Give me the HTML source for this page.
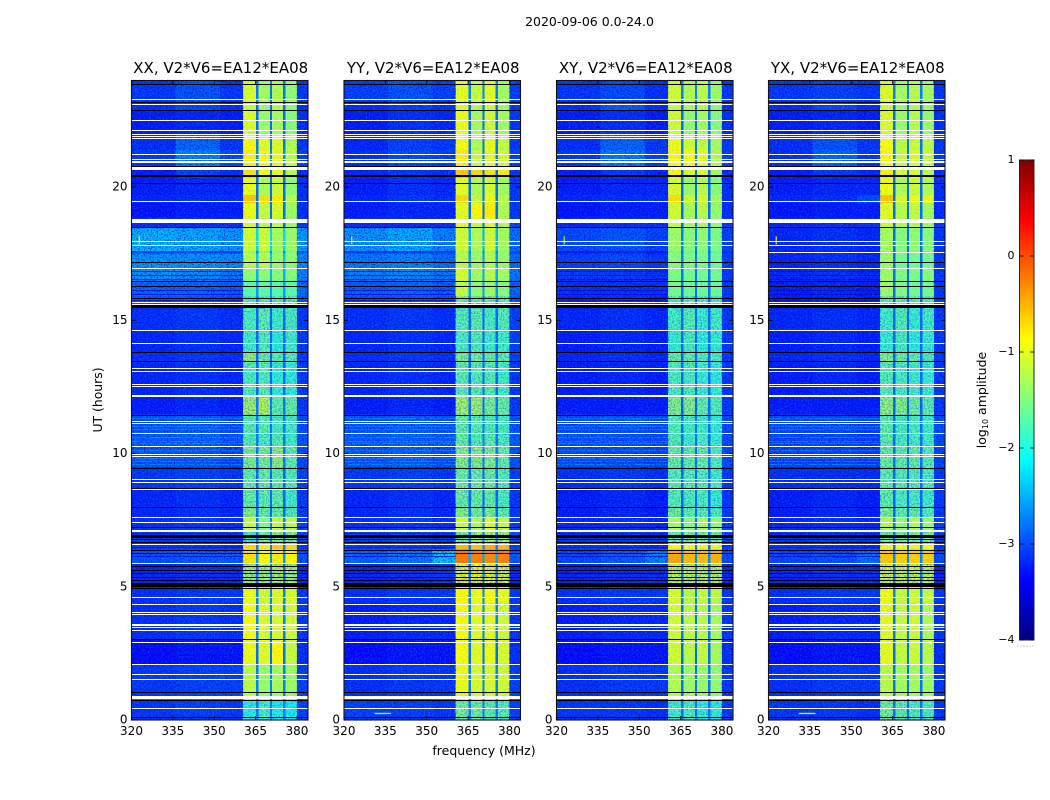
<!DOCTYPE html>
<html lang="en">
<head>
<meta charset="utf-8">
<title>2020-09-06 dynamic spectra</title>
<style>
html,body{margin:0;padding:0;background:#fff;}
svg{display:block;}
text{font-family:"DejaVu Sans","Liberation Sans",sans-serif;fill:#000;}
</style>
</head>
<body>
<svg id="chart" xmlns="http://www.w3.org/2000/svg" width="1050" height="800" viewBox="0 0 1050 800">
<defs>
<filter id="speckle" x="0" y="0" width="100%" height="100%" color-interpolation-filters="sRGB">
<feTurbulence type="fractalNoise" baseFrequency="0.62" numOctaves="1" seed="4"/>
<feColorMatrix type="matrix" values="0 0 0 0 0.18  0 0 0 0 0.5  0 0 0 0 1  5 0 0 0 -2.35"/>
</filter>
<filter id="speckle-dark" x="0" y="0" width="100%" height="100%" color-interpolation-filters="sRGB">
<feTurbulence type="fractalNoise" baseFrequency="0.7" numOctaves="1" seed="11"/>
<feColorMatrix type="matrix" values="0 0 0 0 0  0 0 0 0 0.05  0 0 0 0 0.72  5 0 0 0 -2.4"/>
</filter>
<linearGradient id="jet-gradient" x1="0" y1="1" x2="0" y2="0"></linearGradient>
</defs>
<text x="589.5" y="26" text-anchor="middle" font-size="12.5">2020-09-06 0.0-24.0</text>
<text x="484" y="755" text-anchor="middle" font-size="12.5">frequency (MHz)</text>
<text transform="translate(102,400) rotate(-90)" text-anchor="middle" font-size="12.4">UT (hours)</text>
<text transform="translate(986,400) rotate(-90)" text-anchor="middle" font-size="12.5">log<tspan font-size="8" dy="2">10</tspan><tspan dy="-2"> amplitude</tspan></text>
<g id="panels"></g>
<g id="colorbar"></g>
</svg>
<script>
// ---- axis categories and ticks ----
var panelTitles = ["XX, V2*V6=EA12*EA08","YY, V2*V6=EA12*EA08","XY, V2*V6=EA12*EA08","YX, V2*V6=EA12*EA08"];
var freqTicks = [320,335,350,365,380];
var timeTicks = [0,5,10,15,20];
var colorbarTicks = [1,0,-1,-2,-3,-4];
var freqRange = [320,384];
var timeRange = [0,24];
var levelRange = [-4,1];

// ---- heatmap column edges (MHz); columns: bg1 bg2 bg3 b1 gap b2 gap b3 gap b4 outer ----
var freqEdges = [320,336,352,360.5,365.2,366,370.2,370.9,375,375.8,380,384];

// ---- heatmap row edges (hours, top to bottom) ----
var timeEdges = [24,23.2,22.9,22,21.4,20.8,20.35,19.7,19.4,18.85,18.5,17.6,17.5,17,16.5,15.9,15.5,14.6,13.8,13.4,12.2,11.46,10.8,10.3,9.5,8.7,8,7.6,7.1,6.6,6.4,5.85,5,4.4,3,2.1,0.9,0.75,0];

// ---- log10 amplitude per row: [bg1,bg2,bg3,b1,b2,b3,b4,gap,outer] ----
var xxLevels = [
[-3.1,-2.95,-3.1,-1.05,-1.3,-1.25,-1.4,-2.8,-3.1],
[-3.15,-3.0,-3.15,-1.1,-1.35,-1.25,-1.45,-2.85,-3.15],
[-3.25,-3.2,-3.25,-1.05,-1.35,-1.3,-1.45,-2.85,-3.15],
[-3.15,-2.85,-3.1,-0.85,-1.0,-1.05,-1.25,-2.8,-3.1],
[-3.1,-2.7,-3.0,-0.8,-0.95,-1.0,-1.2,-2.7,-3.05],
[-3.25,-3.05,-3.15,-0.75,-0.9,-0.95,-1.2,-2.85,-3.15],
[-3.25,-3.2,-3.2,-0.95,-1.25,-1.1,-1.4,-2.85,-3.15],
[-3.2,-3.15,-3.15,-0.6,-0.75,-0.8,-1.2,-2.85,-3.15],
[-3.3,-3.25,-3.25,-0.95,-1.15,-1.05,-1.35,-2.85,-3.15],
[-3.15,-3.15,-3.15,-1.05,-1.15,-1.15,-1.35,-2.85,-3.1],
[-2.45,-2.5,-2.6,-1.1,-1.1,-1.3,-1.35,-2.3,-2.55],
[-3.0,-3.0,-3.05,-1.4,-1.4,-1.5,-1.5,-2.7,-2.95],
[-2.6,-2.6,-2.65,-1.2,-1.2,-1.35,-1.4,-2.4,-2.65],
[-2.6,-2.65,-2.75,-1.4,-1.4,-1.45,-1.45,-2.5,-2.7],
[-2.85,-2.85,-2.9,-1.7,-1.65,-1.7,-1.7,-2.6,-2.8],
[-2.95,-2.95,-3.0,-1.75,-1.7,-1.65,-1.75,-2.7,-2.95],
[-3.15,-3.1,-3.15,-1.75,-1.65,-1.8,-1.75,-2.85,-3.1],
[-3.2,-3.15,-3.2,-1.8,-1.7,-1.9,-1.8,-2.85,-3.1],
[-3.15,-3.1,-3.15,-1.4,-1.6,-1.7,-1.7,-2.85,-3.1],
[-3.2,-3.15,-3.2,-1.75,-1.7,-1.9,-1.9,-2.85,-3.1],
[-3.25,-3.2,-3.25,-1.3,-1.2,-1.65,-1.6,-2.75,-3.1],
[-2.95,-2.9,-3.0,-1.65,-1.65,-1.75,-1.75,-2.75,-3.0],
[-2.9,-2.85,-2.95,-1.7,-1.75,-1.7,-1.8,-2.75,-2.95],
[-2.95,-2.95,-3.05,-1.5,-1.5,-1.4,-1.65,-2.75,-3.0],
[-3.1,-3.05,-3.1,-1.65,-1.6,-1.65,-1.7,-2.85,-3.05],
[-3.2,-3.15,-3.2,-1.6,-1.65,-1.65,-1.8,-2.85,-3.1],
[-3.2,-3.15,-3.2,-1.45,-1.6,-1.6,-1.7,-2.85,-3.1],
[-3.15,-3.1,-3.15,-1.15,-1.5,-1.15,-1.2,-2.75,-3.05],
[-3.1,-3.05,-3.1,-1.85,-1.55,-1.4,-1.5,-2.75,-3.05],
[-3.1,-3.1,-3.15,-0.7,-0.8,-0.65,-0.7,-2.75,-3.1],
[-2.95,-2.9,-2.9,-0.75,-0.85,-0.8,-0.85,-2.65,-2.95],
[-3.2,-3.15,-3.15,-1.35,-1.3,-1.25,-1.3,-2.8,-3.2],
[-3.15,-3.1,-3.1,-0.95,-1.1,-1.05,-1.05,-2.75,-3.1],
[-3.15,-3.1,-3.15,-0.9,-1.05,-1.05,-1.1,-2.75,-3.1],
[-3.35,-3.3,-3.3,-0.95,-1.0,-0.85,-1.15,-2.85,-3.15],
[-3.1,-3.05,-3.05,-1.2,-1.35,-1.3,-1.35,-2.75,-3.05],
[-2.75,-2.75,-2.65,-1.35,-1.35,-1.35,-1.35,-2.65,-2.85],
[-3.1,-3.05,-3.1,-1.95,-1.8,-2.0,-2.05,-2.75,-3.05]
];
var yyLevels = [
[-3.05,-2.95,-3.05,-1.0,-1.15,-1.0,-1.3,-2.75,-3.05],
[-3.15,-3.05,-3.15,-1.0,-1.25,-1.05,-1.35,-2.85,-3.1],
[-3.25,-3.15,-3.2,-0.95,-1.3,-1.1,-1.3,-2.85,-3.1],
[-3.2,-3.05,-3.1,-0.9,-1.25,-0.95,-1.15,-2.8,-3.1],
[-3.15,-3.0,-3.05,-0.8,-1.15,-1.0,-1.1,-2.8,-3.05],
[-3.2,-3.1,-3.15,-0.6,-0.7,-0.75,-0.8,-2.85,-3.1],
[-3.25,-3.15,-3.2,-1.0,-1.25,-1.05,-1.3,-2.85,-3.1],
[-3.2,-3.1,-3.15,-0.7,-1.15,-0.95,-1.2,-2.85,-3.1],
[-3.25,-3.2,-3.2,-1.0,-0.85,-0.8,-1.25,-2.85,-3.1],
[-3.15,-3.15,-3.15,-1.0,-1.1,-1.0,-1.2,-2.85,-3.05],
[-2.6,-2.5,-2.7,-1.1,-1.25,-1.1,-1.3,-2.5,-2.8],
[-3.05,-3.05,-3.1,-1.3,-1.4,-1.3,-1.45,-2.75,-3.0],
[-2.75,-2.7,-2.8,-1.2,-1.35,-1.25,-1.35,-2.6,-2.8],
[-2.7,-2.65,-2.75,-1.05,-1.3,-1.2,-1.3,-2.55,-2.75],
[-2.9,-2.85,-2.9,-1.15,-1.4,-1.35,-1.45,-2.6,-2.85],
[-3.0,-2.95,-3.0,-1.5,-1.65,-1.6,-1.7,-2.75,-2.95],
[-3.15,-3.1,-3.15,-1.7,-1.65,-1.75,-1.7,-2.85,-3.05],
[-3.2,-3.15,-3.2,-1.75,-1.7,-1.8,-1.8,-2.85,-3.05],
[-3.15,-3.1,-3.15,-1.5,-1.55,-1.6,-1.65,-2.85,-3.05],
[-3.2,-3.15,-3.2,-1.65,-1.7,-1.7,-1.8,-2.85,-3.1],
[-3.25,-3.2,-3.25,-1.3,-1.3,-1.5,-1.6,-2.8,-3.1],
[-2.95,-2.9,-2.95,-1.6,-1.65,-1.7,-1.75,-2.75,-2.95],
[-2.9,-2.85,-2.9,-1.6,-1.7,-1.65,-1.75,-2.75,-2.9],
[-2.95,-2.9,-3.0,-1.45,-1.45,-1.45,-1.6,-2.75,-2.95],
[-3.1,-3.05,-3.1,-1.6,-1.6,-1.6,-1.7,-2.85,-3.05],
[-3.2,-3.15,-3.2,-1.6,-1.6,-1.6,-1.75,-2.85,-3.1],
[-3.2,-3.15,-3.2,-1.45,-1.55,-1.5,-1.65,-2.85,-3.1],
[-3.15,-3.1,-3.15,-1.1,-1.25,-1.0,-1.15,-2.75,-3.05],
[-3.05,-3.0,-3.05,-1.55,-1.3,-1.3,-1.35,-2.75,-3.0],
[-3.05,-3.05,-3.1,-0.55,-0.6,-0.5,-0.55,-2.75,-3.05],
[-2.85,-2.75,-2.35,-0.2,-0.25,-0.3,-0.25,-2.55,-2.9],
[-3.2,-3.15,-3.1,-0.95,-0.9,-0.95,-1.0,-2.8,-3.2],
[-3.15,-3.1,-3.1,-0.85,-0.95,-0.9,-1.0,-2.75,-3.1],
[-3.25,-3.2,-3.2,-0.9,-1.0,-1.0,-1.1,-2.75,-3.1],
[-3.35,-3.3,-3.3,-0.9,-1.0,-0.95,-1.05,-2.85,-3.15],
[-3.15,-3.1,-3.1,-0.95,-1.05,-1.05,-1.1,-2.75,-3.05],
[-2.85,-2.85,-2.75,-1.15,-1.15,-1.2,-1.15,-2.65,-2.9],
[-3.05,-3.05,-3.1,-1.55,-1.55,-1.65,-1.7,-2.75,-3.05]
];
var xyLevels = [
[-3.1,-3.0,-3.15,-1.1,-1.25,-1.2,-1.35,-2.75,-3.1],
[-3.15,-2.9,-3.15,-1.15,-1.3,-1.2,-1.4,-2.85,-3.15],
[-3.25,-3.15,-3.25,-1.1,-1.4,-1.3,-1.45,-2.85,-3.15],
[-3.15,-2.85,-3.1,-0.95,-1.1,-1.15,-1.3,-2.75,-3.1],
[-3.1,-2.75,-3.05,-0.85,-0.9,-1.0,-1.25,-2.75,-3.05],
[-3.25,-3.1,-3.2,-0.85,-1.05,-1.0,-1.3,-2.85,-3.15],
[-3.25,-3.2,-3.2,-1.05,-1.35,-1.2,-1.45,-2.85,-3.15],
[-3.2,-3.15,-3.15,-0.75,-1.1,-1.05,-1.3,-2.85,-3.15],
[-3.3,-3.25,-3.25,-1.1,-1.3,-1.2,-1.4,-2.85,-3.15],
[-3.2,-3.15,-3.15,-1.15,-1.3,-1.25,-1.4,-2.85,-3.1],
[-3.0,-2.95,-3.05,-1.35,-1.45,-1.4,-1.5,-2.75,-3.05],
[-3.3,-3.25,-3.3,-1.5,-1.6,-1.55,-1.65,-2.85,-3.15],
[-3.05,-3.0,-3.1,-1.45,-1.5,-1.5,-1.55,-2.75,-3.05],
[-3.1,-3.1,-3.15,-1.5,-1.55,-1.55,-1.55,-2.8,-3.1],
[-3.15,-3.15,-3.15,-1.55,-1.6,-1.6,-1.6,-2.8,-3.1],
[-3.2,-3.15,-3.2,-1.75,-1.7,-1.75,-1.75,-2.85,-3.1],
[-3.2,-3.15,-3.2,-1.8,-1.7,-1.85,-1.8,-2.85,-3.1],
[-3.25,-3.2,-3.25,-1.85,-1.75,-1.9,-1.85,-2.85,-3.1],
[-3.2,-3.15,-3.2,-1.6,-1.65,-1.7,-1.75,-2.85,-3.1],
[-3.25,-3.2,-3.25,-1.75,-1.75,-1.85,-1.9,-2.85,-3.1],
[-3.25,-3.25,-3.25,-1.45,-1.45,-1.6,-1.7,-2.85,-3.1],
[-3.0,-2.95,-3.0,-1.7,-1.75,-1.8,-1.85,-2.8,-3.0],
[-2.95,-2.95,-3.0,-1.7,-1.8,-1.75,-1.85,-2.8,-3.0],
[-3.0,-3.0,-3.05,-1.6,-1.65,-1.6,-1.75,-2.8,-3.0],
[-3.15,-3.1,-3.15,-1.7,-1.7,-1.7,-1.8,-2.85,-3.1],
[-3.25,-3.2,-3.25,-1.7,-1.75,-1.75,-1.85,-2.85,-3.1],
[-3.25,-3.2,-3.25,-1.55,-1.65,-1.65,-1.75,-2.85,-3.1],
[-3.2,-3.15,-3.2,-1.3,-1.45,-1.3,-1.4,-2.8,-3.05],
[-3.1,-3.05,-3.1,-1.65,-1.5,-1.5,-1.55,-2.8,-3.05],
[-3.1,-3.1,-3.15,-0.85,-0.95,-0.9,-0.95,-2.8,-3.1],
[-3.0,-2.9,-2.7,-0.45,-0.55,-0.55,-0.5,-2.7,-3.0],
[-3.2,-3.15,-3.15,-1.15,-1.15,-1.15,-1.2,-2.8,-3.2],
[-3.15,-3.1,-3.1,-1.05,-1.2,-1.15,-1.2,-2.75,-3.1],
[-3.25,-3.2,-3.2,-1.1,-1.2,-1.2,-1.3,-2.8,-3.1],
[-3.35,-3.3,-3.3,-1.1,-1.2,-1.15,-1.3,-2.85,-3.15],
[-3.15,-3.1,-3.1,-1.25,-1.35,-1.35,-1.4,-2.8,-3.1],
[-2.95,-2.9,-2.9,-1.35,-1.35,-1.4,-1.4,-2.7,-2.95],
[-3.1,-3.1,-3.15,-1.8,-1.75,-1.9,-1.9,-2.8,-3.1]
];
var yxLevels = [
[-3.1,-3.05,-3.1,-1.05,-1.3,-1.2,-1.3,-2.75,-3.1],
[-3.15,-3.0,-3.15,-1.1,-1.35,-1.2,-1.35,-2.85,-3.15],
[-3.25,-3.2,-3.25,-1.05,-1.35,-1.2,-1.35,-2.85,-3.15],
[-3.15,-2.95,-3.1,-0.9,-1.2,-1.1,-1.2,-2.8,-3.1],
[-3.15,-2.85,-3.1,-0.85,-1.15,-1.05,-1.15,-2.8,-3.1],
[-3.25,-3.1,-3.2,-0.8,-1.05,-1.0,-1.2,-2.85,-3.15],
[-3.25,-3.2,-3.2,-0.95,-1.25,-1.1,-1.25,-2.85,-3.15],
[-3.2,-3.15,-3.0,-0.6,-1.05,-0.95,-1.0,-2.85,-3.15],
[-3.3,-3.25,-3.25,-1.0,-1.2,-1.15,-1.3,-2.85,-3.15],
[-3.2,-3.15,-3.15,-1.1,-1.25,-1.2,-1.3,-2.85,-3.1],
[-3.2,-3.15,-3.2,-1.3,-1.45,-1.4,-1.45,-2.85,-3.1],
[-3.25,-3.25,-3.25,-1.5,-1.6,-1.55,-1.6,-2.85,-3.15],
[-3.2,-3.15,-3.2,-1.35,-1.55,-1.55,-1.55,-2.85,-3.1],
[-3.2,-3.15,-3.2,-1.35,-1.5,-1.5,-1.45,-2.85,-3.1],
[-3.25,-3.2,-3.25,-1.35,-1.5,-1.55,-1.55,-2.85,-3.1],
[-3.25,-3.2,-3.25,-1.7,-1.65,-1.7,-1.75,-2.85,-3.1],
[-3.2,-3.15,-3.2,-1.8,-1.7,-1.85,-1.8,-2.85,-3.1],
[-3.25,-3.2,-3.25,-1.85,-1.75,-1.9,-1.85,-2.85,-3.1],
[-3.2,-3.15,-3.2,-1.5,-1.6,-1.65,-1.75,-2.85,-3.1],
[-3.25,-3.2,-3.25,-1.7,-1.75,-1.8,-1.85,-2.85,-3.1],
[-3.25,-3.25,-3.25,-1.4,-1.45,-1.55,-1.65,-2.85,-3.1],
[-3.0,-3.0,-3.05,-1.65,-1.75,-1.75,-1.8,-2.8,-3.0],
[-3.0,-3.0,-3.05,-1.65,-1.75,-1.75,-1.8,-2.8,-3.0],
[-3.05,-3.05,-3.1,-1.6,-1.65,-1.6,-1.7,-2.8,-3.05],
[-3.15,-3.15,-3.15,-1.65,-1.7,-1.7,-1.75,-2.85,-3.1],
[-3.25,-3.2,-3.25,-1.65,-1.75,-1.75,-1.8,-2.85,-3.1],
[-3.25,-3.2,-3.25,-1.5,-1.65,-1.6,-1.7,-2.85,-3.1],
[-3.2,-3.15,-3.2,-1.25,-1.4,-1.25,-1.35,-2.8,-3.05],
[-3.1,-3.05,-3.1,-1.6,-1.5,-1.45,-1.5,-2.8,-3.05],
[-3.1,-3.1,-3.15,-0.85,-0.9,-0.85,-0.9,-2.8,-3.1],
[-3.0,-2.95,-2.8,-0.6,-0.65,-0.65,-0.65,-2.7,-3.0],
[-3.2,-3.15,-3.15,-1.05,-1.1,-1.1,-1.15,-2.8,-3.2],
[-3.15,-3.1,-3.1,-0.95,-1.15,-1.1,-1.15,-2.75,-3.1],
[-3.25,-3.2,-3.2,-1.0,-1.15,-1.1,-1.25,-2.8,-3.1],
[-3.35,-3.3,-3.3,-1.0,-1.15,-1.1,-1.2,-2.85,-3.15],
[-3.15,-3.1,-3.1,-1.2,-1.3,-1.3,-1.35,-2.8,-3.1],
[-2.95,-2.9,-2.9,-1.3,-1.3,-1.35,-1.35,-2.7,-2.95],
[-3.1,-3.1,-3.15,-1.55,-1.65,-1.75,-1.75,-2.8,-3.1]
];
var panelLevels = [xxLevels,yyLevels,xyLevels,yxLevels];

// ---- flagged integrations (hours) ----
var whiteThinRows = [23.29,23.10,22.50,22.16,22.01,21.92,21.85,21.26,21.05,19.46,17.97,17.82,16.98,15.69,15.61,14.62,14.13,13.22,13.08,12.60,12.53,12.20,12.15,11.23,11.13,10.78,10.29,9.98,9.90,9.04,8.92,8.66,7.61,7.42,7.14,7.09,6.59,5.88,4.63,4.34,4.06,3.97,3.61,3.55,3.48,3.38,2.92,2.09,1.71,1.55,0.46];
var whiteThickRows = [[20.98,20.92],[20.76,20.64],[18.82,18.64],[0.90,0.79]];
var yxOnlyWhiteRows = [17.56];
var blackThinRows = [23.86,23.20,22.91,20.80,20.14,18.49,17.17,16.46,16.30,15.85,13.80,13.46,11.46,9.44,8.72,8.00,7.23,6.94,6.78,6.69,6.38,6.25,5.79,5.63,5.50,5.38,5.25,4.94,3.03,1.06,0.75,0.12];
var blackThickRows = [[20.45,20.39],[15.57,15.46],[5.13,5.00],[6.90,6.84]];

// ---- thin stripes across the off-band channels (hours) ----
var brightStripeRows = [11.32,11.02,10.92,10.62,10.48,10.38,10.12,9.82,9.72,9.62];
var darkStripeRows = [16.85,16.7,16.55,16.12,15.97,15.75,7.0,6.5,6.15];
var brightStripeLevel = -2.55;
var darkStripeLevel = -3.6;

// ---- hour ranges where the bands look noisy or mostly clean ----
var noisyBandRanges = [[15.9,7.6],[7.1,6.6],[5.85,5],[0.75,0]];
var cleanBandRanges = [[24,15.9],[7.6,7.1],[6.6,5.85],[5,0.75]];

// ---- narrow RFI marks ----
var rfiPanels = [0,1,2,3,1,3];
var rfiFreqStart = [322.6,322.6,322.6,322.6,331,331];
var rfiFreqEnd = [323,323,323,323,337,337];
var rfiTimeStart = [18.15,18.15,18.15,18.15,0.27,0.27];
var rfiTimeEnd = [17.85,17.85,17.85,17.85,0.22,0.22];
var rfiLevels = [-0.9,-0.9,-1.1,-0.9,-1.5,-1.3];

// ---- layout ----
var panelLeft = [131.5,344,556.5,768.5];
var panelWidth = 176.5;
var plotTop = 80.5;
var plotBottom = 720;
var barLeft = 1019.5, barRight = 1034, barTop = 160, barBottom = 640;
var NS = 'http://www.w3.org/2000/svg';

function jetColor(v){
  function ramp(x){return Math.max(0,Math.min(1,x));}
  var r = ramp(Math.min(4*v-1.5,-4*v+4.5));
  var g = ramp(Math.min(4*v-0.5,-4*v+3.5));
  var b = ramp(Math.min(4*v+0.5,-4*v+2.5));
  return 'rgb('+Math.round(r*255)+','+Math.round(g*255)+','+Math.round(b*255)+')';
}
function levelColor(l){return jetColor((l-levelRange[0])/(levelRange[1]-levelRange[0]));}
function xScale(p,f){return panelLeft[p]+(f-freqRange[0])/(freqRange[1]-freqRange[0])*panelWidth;}
function yScale(h){return plotBottom-(h-timeRange[0])/(timeRange[1]-timeRange[0])*(plotBottom-plotTop);}
function barY(l){return barBottom-(l-levelRange[0])/(levelRange[1]-levelRange[0])*(barBottom-barTop);}
function make(tag,parent,attrs){
  var el=document.createElementNS(NS,tag);
  for(var k in attrs){el.setAttribute(k,attrs[k]);}
  parent.appendChild(el);
  return el;
}
function hline(group,p,h1,h2,color){
  var y1=Math.round(yScale(h1));
  var y2=Math.max(y1+1,Math.round(yScale(h2)));
  return make('rect',group,{x:panelLeft[p],y:y1,width:panelWidth,height:y2-y1,fill:color,'shape-rendering':'crispEdges'});
}
// column index mapping into each row: bg1 bg2 bg3 b1 gap b2 gap b3 gap b4 outer
var columnSource = [0,1,2,3,7,4,7,5,7,6,8];

var root=document.getElementById('panels');
panelTitles.forEach(function(title,p){
  var g=make('g',root,{});
  
  
  var clipId='clip-'+p;
  var clip=make('clipPath',g,{id:clipId});
  make('rect',clip,{x:panelLeft[p],y:plotTop,width:panelWidth,height:plotBottom-plotTop});
  var cells=make('g',g,{'clip-path':'url(#'+clipId+')'});
  
  
  panelLevels[p].forEach(function(row,r){
    var y1=yScale(timeEdges[r]),y2=yScale(timeEdges[r+1]);
    columnSource.forEach(function(src,c){
      var x1=xScale(p,freqEdges[c]),x2=xScale(p,freqEdges[c+1]);
      var cell=make('rect',cells,{x:x1,y:y1,width:x2-x1+0.3,height:y2-y1+0.3,fill:levelColor(row[src]),'shape-rendering':'crispEdges'});
      
      
    });
  });
  var bgEnd=xScale(p,freqEdges[3]);
  var bandEnd=xScale(p,freqEdges[10]);
  brightStripeRows.forEach(function(h){
    var y=Math.round(yScale(h));
    var s=make('rect',cells,{x:panelLeft[p],y:y,width:bgEnd-panelLeft[p],height:1,fill:levelColor(brightStripeLevel),opacity:0.6,'shape-rendering':'crispEdges'});
    
    
  });
  darkStripeRows.forEach(function(h){
    var y=Math.round(yScale(h));
    var s=make('rect',cells,{x:panelLeft[p],y:y,width:bgEnd-panelLeft[p],height:1,fill:levelColor(darkStripeLevel),opacity:0.75,'shape-rendering':'crispEdges'});
    
    
  });
  [[panelLeft[p],bgEnd-panelLeft[p]],[bandEnd,panelLeft[p]+panelWidth-bandEnd]].forEach(function(seg){
    var tex1=make('rect',cells,{x:seg[0],y:plotTop,width:seg[1],height:plotBottom-plotTop,filter:'url(#speckle)',opacity:0.32});
    
    
    var tex2=make('rect',cells,{x:seg[0],y:plotTop,width:seg[1],height:plotBottom-plotTop,filter:'url(#speckle-dark)',opacity:0.6});
    
    
  });
  noisyBandRanges.forEach(function(range){
    var yA=yScale(range[0]),yB=yScale(range[1]);
    var tex3=make('rect',cells,{x:bgEnd,y:yA,width:bandEnd-bgEnd,height:yB-yA,filter:'url(#speckle)',opacity:0.5});
    
    
    var tex4=make('rect',cells,{x:bgEnd,y:yA,width:bandEnd-bgEnd,height:yB-yA,filter:'url(#speckle-dark)',opacity:0.22});
    
    
  });
  cleanBandRanges.forEach(function(range){
    var yA=yScale(range[0]),yB=yScale(range[1]);
    var tex5=make('rect',cells,{x:bgEnd,y:yA,width:bandEnd-bgEnd,height:yB-yA,filter:'url(#speckle)',opacity:0.16});
    
    
  });
  rfiPanels.forEach(function(pp,i){
    if(pp!==p)return;
    var m=make('rect',cells,{x:xScale(p,rfiFreqStart[i]),y:yScale(rfiTimeStart[i]),width:xScale(p,rfiFreqEnd[i])-xScale(p,rfiFreqStart[i]),height:yScale(rfiTimeEnd[i])-yScale(rfiTimeStart[i]),fill:levelColor(rfiLevels[i])});
    
    
  });
  whiteThinRows.forEach(function(h){
    var w=hline(cells,p,h,h,'#fff');
    
    
  });
  whiteThickRows.forEach(function(h){
    var w=hline(cells,p,h[0],h[1],'#fff');
    
    
  });
  if(p===3){yxOnlyWhiteRows.forEach(function(h){
    var w=hline(cells,p,h,h,'#fff');
    
    
  });}
  blackThinRows.forEach(function(h){
    var b=hline(cells,p,h,h,'#000');
    
    
  });
  blackThickRows.forEach(function(h){
    var b=hline(cells,p,h[0],h[1],'#000');
    
    
  });
  var frame=make('rect',g,{x:panelLeft[p],y:plotTop,width:panelWidth,height:plotBottom-plotTop,fill:'none',stroke:'#111','stroke-width':1.1});
  
  
  freqTicks.forEach(function(f){
    var x=xScale(p,f);
    var t1=make('line',g,{x1:x,x2:x,y1:plotBottom,y2:plotBottom-4,stroke:'#000','stroke-width':0.8});
    
    
    var t2=make('line',g,{x1:x,x2:x,y1:plotTop,y2:plotTop+4,stroke:'#000','stroke-width':0.8});
    
    
    var lab=make('text',g,{x:x,y:plotBottom+15,'text-anchor':'middle','font-size':12});
    
    
    lab.textContent=f;
  });
  timeTicks.forEach(function(h){
    var y=yScale(h);
    var t1=make('line',g,{x1:panelLeft[p],x2:panelLeft[p]+4,y1:y,y2:y,stroke:'#000','stroke-width':0.8});
    
    
    var t2=make('line',g,{x1:panelLeft[p]+panelWidth,x2:panelLeft[p]+panelWidth-4,y1:y,y2:y,stroke:'#000','stroke-width':0.8});
    
    
    var lab=make('text',g,{x:panelLeft[p]-4,y:y+3.5,'text-anchor':'end','font-size':12});
    
    
    lab.textContent=h;
  });
  var tt=make('text',g,{x:panelLeft[p]+panelWidth/2+1,y:73,'text-anchor':'middle','font-size':15});
  
  
  tt.textContent=title;
});

// colorbar
var grad=document.getElementById('jet-gradient');
var colorStopPositions=[0,0.11,0.125,0.34,0.375,0.5,0.625,0.64,0.875,0.91,1];
colorStopPositions.forEach(function(o){
  make('stop',grad,{offset:o,'stop-color':jetColor(o)});
});
var bar=document.getElementById('colorbar');
var fill=make('rect',bar,{x:barLeft,y:barTop,width:barRight-barLeft,height:barBottom-barTop,fill:'url(#jet-gradient)'});


var outline=make('rect',bar,{x:barLeft,y:barTop,width:barRight-barLeft,height:barBottom-barTop,fill:'none',stroke:'#222','stroke-width':1});


colorbarTicks.forEach(function(l){
  var y=barY(l);
  var t1=make('line',bar,{x1:barLeft,x2:barLeft+4,y1:y,y2:y,stroke:'#000','stroke-width':0.8});
  
  
  var t2=make('line',bar,{x1:barRight,x2:barRight-4,y1:y,y2:y,stroke:'#000','stroke-width':0.8});
  
  
  var lab=make('text',bar,{x:barLeft-5,y:y+3,'text-anchor':'end','font-size':11});
  
  
  lab.textContent=(l<0?'\u2212'+(-l):l);
});
var dots=make('line',bar,{x1:barLeft-2,x2:barRight,y1:646,y2:646,stroke:'#999','stroke-width':1,'stroke-dasharray':'1 2'});


</script>
</body>
</html>
